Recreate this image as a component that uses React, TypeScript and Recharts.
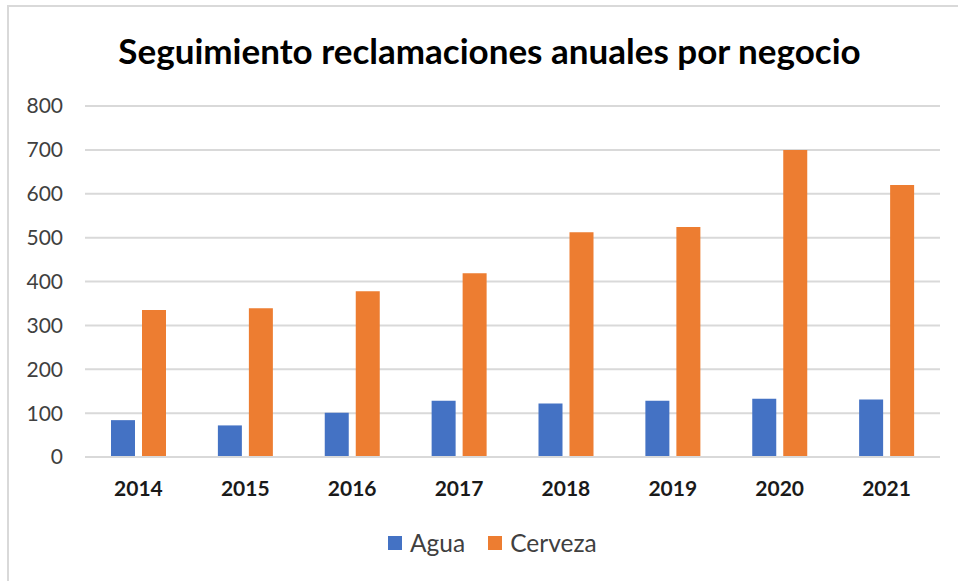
import { Bar, BarChart, CartesianGrid, XAxis, YAxis } from "recharts";

const years = ["2014", "2015", "2016", "2017", "2018", "2019", "2020", "2021"];
const agua = [84, 72, 101, 128, 122, 128, 133, 131];
const cerveza = [335, 339, 378, 419, 512, 524, 700, 620];
const yTicks = [0, 100, 200, 300, 400, 500, 600, 700, 800];

const BLUE = "#4472C4";
const ORANGE = "#ED7D31";
const FONT = "Lato, 'Open Sans', sans-serif";

const data = years.map((y, i) => ({ year: y, Agua: agua[i], Cerveza: cerveza[i] }));

function LegendBox() {
  const items = [
    { name: "Agua", color: BLUE },
    { name: "Cerveza", color: ORANGE },
  ];
  return (
    <div
      style={{
        position: "absolute",
        left: 388,
        top: 529,
        display: "flex",
        alignItems: "center",
        fontFamily: FONT,
        fontSize: 24.5,
        lineHeight: "28px",
        color: "#404040",
      }}
    >
      {items.map((it, i) => (
        <div key={it.name} style={{ display: "flex", alignItems: "center", marginLeft: i === 0 ? 0 : 23 }}>
          <span style={{ width: 14, height: 14, background: it.color, display: "inline-block", marginRight: 8 }} />
          <span>{it.name}</span>
        </div>
      ))}
    </div>
  );
}

export default function App() {
  return (
    <div style={{ position: "absolute", left: 0, top: 0, width: 958, height: 581, background: "#fff", overflow: "hidden" }}>
      {/* chart frame, only left and top edges are inside the picture */}
      <div
        style={{
          position: "absolute",
          left: 7,
          top: 5,
          width: 980,
          height: 600,
          borderLeft: "2px solid #d9d9d9",
          borderTop: "2px solid #d9d9d9",
        }}
      />
      <div
        style={{
          position: "absolute",
          left: 0,
          top: 33,
          width: 979,
          textAlign: "center",
          fontFamily: FONT,
          fontWeight: 700,
          fontSize: 35,
          lineHeight: "35px",
          color: "#000",
        }}
      >
        Seguimiento reclamaciones anuales por negocio
      </div>
      <BarChart
        width={958}
        height={581}
        data={data}
        margin={{ top: 106, right: 18, left: 25, bottom: 84 }}
        barSize={24}
        barGap={7}
        style={{ position: "absolute", left: 0, top: 0 }}
      >
        <CartesianGrid vertical={false} stroke="#d9d9d9" strokeWidth={2} />
        <XAxis
          dataKey="year"
          axisLine={{ stroke: "#d9d9d9", strokeWidth: 2 }}
          tickLine={false}
          tickSize={0}
          tickMargin={24}
          tick={{ fill: "#1a1a1a", fontSize: 21, fontWeight: 700, fontFamily: FONT }}
          height={40}
        />
        <YAxis
          domain={[0, 800]}
          ticks={yTicks}
          axisLine={false}
          tickLine={false}
          tickSize={0}
          tickMargin={22}
          width={60}
          tick={{ fill: "#404040", fontSize: 21, fontFamily: FONT }}
        />
        <Bar dataKey="Agua" fill={BLUE} isAnimationActive={false} />
        <Bar dataKey="Cerveza" fill={ORANGE} isAnimationActive={false} />
      </BarChart>
      <LegendBox />
    </div>
  );
}
